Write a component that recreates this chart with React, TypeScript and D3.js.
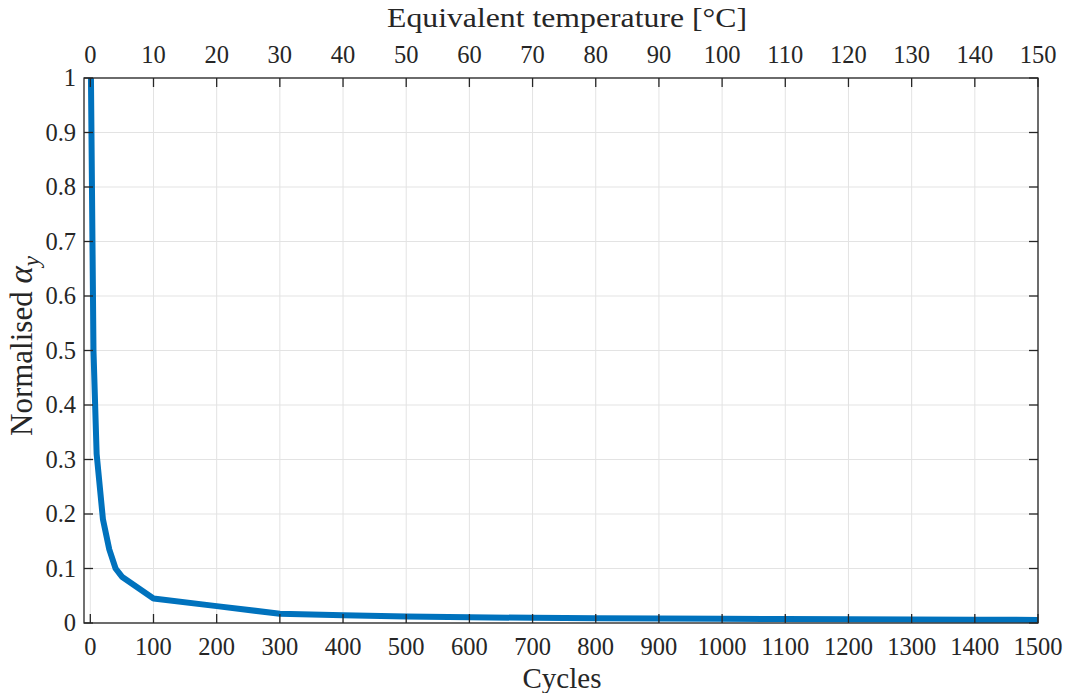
import React from 'react';
import * as d3 from 'd3';

// values
const cycles = [1, 5, 10, 20, 30, 40, 50, 100, 200, 300, 400, 500, 600, 700, 800, 900, 1000, 1100, 1200, 1300, 1400, 1500];
const alphaY = [1, 0.5, 0.31, 0.19, 0.135, 0.1, 0.085, 0.045, 0.031, 0.017, 0.014, 0.012, 0.0105, 0.0095, 0.0088, 0.0082, 0.0077, 0.0072, 0.0068, 0.0064, 0.006, 0.0057];
const cycleTicks = d3.range(0, 1501, 100);
const tempTicks = d3.range(0, 151, 10);
const yTicks = d3.range(0, 11).map(d => d / 10);

const W = 1067, H = 693;
const margin = { top: 78, right: 29, bottom: 70, left: 84 };
const font = '"Liberation Serif", serif';
const axisColor = '#262626';

export default function App() {
  const x = d3.scaleLinear().domain([-10, 1500]).range([margin.left, W - margin.right]);
  const xTop = d3.scaleLinear().domain([-1, 150]).range([margin.left, W - margin.right]);
  const y = d3.scaleLinear().domain([0, 1]).range([H - margin.bottom, margin.top]);
  const x0 = margin.left, x1 = W - margin.right, y0 = H - margin.bottom, y1 = margin.top;
  const tick = 9;

  const line = d3.line<number>()
    .x((d, i) => x(cycles[i]))
    .y(d => y(d));

  return (
    <svg width={W} height={H} style={{ position: 'absolute', left: 0, top: 0, background: '#fff', fontFamily: font }}>
      <defs>
        <clipPath id="plot">
          <rect x={x0} y={y1} width={x1 - x0} height={y0 - y1} />
        </clipPath>
      </defs>
      {/* grid */}
      <g stroke="#e3e3e3" strokeWidth={1}>
        {cycleTicks.map(t => <line key={'gx' + t} x1={x(t)} x2={x(t)} y1={y1} y2={y0} />)}
        {yTicks.map(t => <line key={'gy' + t} x1={x0} x2={x1} y1={y(t)} y2={y(t)} />)}
      </g>
      {/* data */}
      <path d={line(alphaY) || ''} fill="none" stroke="#0072BD" strokeWidth={6}
        strokeLinejoin="round" clipPath="url(#plot)" />
      {/* box and ticks */}
      <g stroke={axisColor} strokeWidth={1.3}>
        <rect x={x0} y={y1} width={x1 - x0} height={y0 - y1} fill="none" />
        {cycleTicks.map(t => <line key={'tb' + t} x1={x(t)} x2={x(t)} y1={y0} y2={y0 - tick} />)}
        {tempTicks.map(t => <line key={'tt' + t} x1={xTop(t)} x2={xTop(t)} y1={y1} y2={y1 + tick} />)}
        {yTicks.map(t => <line key={'tl' + t} x1={x0} x2={x0 + tick} y1={y(t)} y2={y(t)} />)}
        {yTicks.map(t => <line key={'tr' + t} x1={x1} x2={x1 - tick} y1={y(t)} y2={y(t)} />)}
      </g>
      {/* tick labels */}
      <g fill={axisColor} fontSize={24.5}>
        {cycleTicks.map(t => (
          <text key={'lb' + t} x={x(t)} y={y0 + 32} textAnchor="middle">{t}</text>
        ))}
        {tempTicks.map(t => (
          <text key={'lt' + t} x={xTop(t)} y={y1 - 15} textAnchor="middle">{t}</text>
        ))}
        {yTicks.map(t => (
          <text key={'ly' + t} x={x0 - 8} y={y(t) + 8} textAnchor="end">{d3.format('~g')(t)}</text>
        ))}
      </g>
      {/* axis labels */}
      <g fill={axisColor}>
        <text x={(x0 + x1) / 2 + 1} y={688} textAnchor="middle" fontSize={29}>Cycles</text>
        <text x={(x0 + x1) / 2 + 6} y={27} textAnchor="middle" fontSize={27}
          textLength={360} lengthAdjust="spacingAndGlyphs">Equivalent temperature [°C]</text>
        <text transform={`translate(32,346) rotate(-90)`} textAnchor="middle" fontSize={31}>
          Normalised <tspan fontStyle="italic" fontSize={33}>α</tspan>
          <tspan fontStyle="italic" fontSize={23} dy={7}>y</tspan>
        </text>
      </g>
    </svg>
  );
}
